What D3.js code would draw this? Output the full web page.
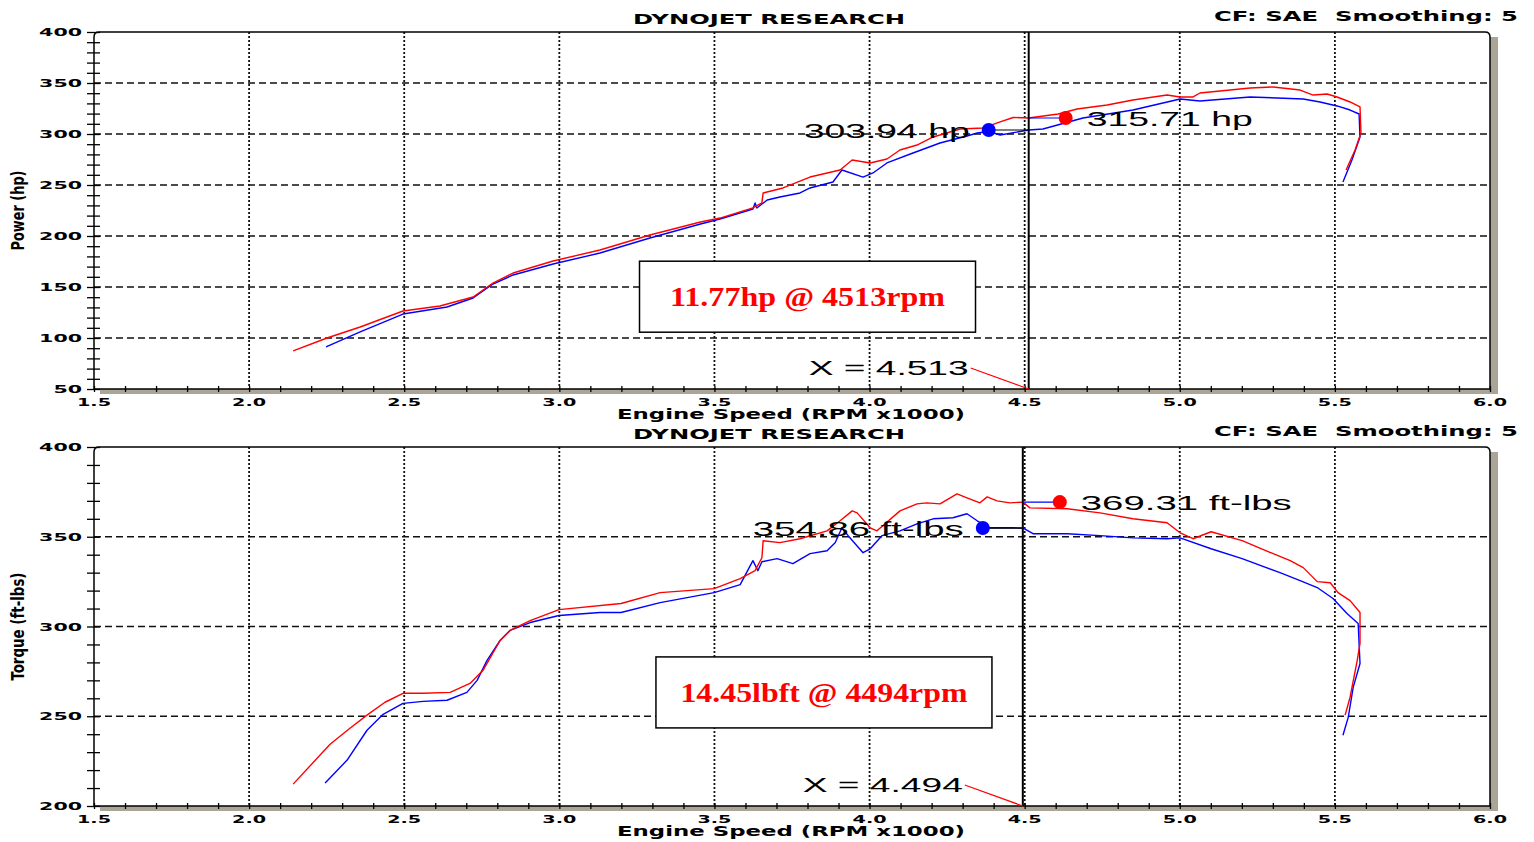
<!DOCTYPE html>
<html>
<head>
<meta charset="utf-8">
<script src="https://cdn.jsdelivr.net/npm/d3@7/dist/d3.min.js"></script>
<style>
	body { margin: 0; background: #fff; }
	svg { display: block; }
</style>
</head>
<body>
<div id="chart"></div>
<script>
// tick labels
var rpmTicks = [1.5, 2.0, 2.5, 3.0, 3.5, 4.0, 4.5, 5.0, 5.5, 6.0];
var powerTicks = [50, 100, 150, 200, 250, 300, 350, 400];
var torqueTicks = [200, 250, 300, 350, 400];

// dyno runs, [rpm x1000, value] - red is the "after" run, blue the baseline
var powerAfter = [
	[2.142, 87.3], [2.251, 100.0], [2.358, 110.8], [2.496, 126.5], [2.615, 131.4], [2.722, 140.2],
	[2.786, 153.9], [2.851, 163.7], [2.980, 175.5], [3.131, 186.3], [3.292, 201.0], [3.455, 213.7],
	[3.518, 217.6], [3.624, 227.5], [3.653, 232.4], [3.657, 242.2], [3.721, 247.1], [3.808, 257.8],
	[3.905, 264.7], [3.944, 274.5], [4.002, 271.6], [4.056, 275.5], [4.098, 284.3], [4.153, 289.2],
	[4.205, 297.1], [4.292, 304.9], [4.366, 305.9], [4.421, 311.8], [4.463, 316.2], [4.513, 315.7],
	[4.608, 319.6], [4.669, 324.5], [4.766, 328.4], [4.849, 333.3], [4.959, 338.2], [5.001, 336.3],
	[5.043, 336.3], [5.065, 340.2], [5.227, 345.1], [5.301, 346.1], [5.388, 343.1], [5.430, 338.2],
	[5.475, 339.2], [5.507, 336.3], [5.549, 331.4], [5.581, 326.5], [5.584, 301.0], [5.565, 284.3],
	[5.536, 264.7]
];
var powerBefore = [
	[2.248, 91.2], [2.358, 105.9], [2.496, 123.5], [2.638, 130.4], [2.722, 139.2], [2.786, 152.9],
	[2.851, 161.8], [2.980, 172.5], [3.131, 183.3], [3.292, 198.0], [3.455, 211.8], [3.518, 216.7],
	[3.624, 226.5], [3.631, 232.4], [3.637, 227.5], [3.670, 235.3], [3.711, 238.2], [3.776, 242.2],
	[3.808, 247.1], [3.882, 252.9], [3.911, 264.7], [3.979, 257.8], [4.011, 261.8], [4.056, 271.6],
	[4.140, 281.4], [4.227, 291.2], [4.314, 298.0], [4.347, 301.0], [4.382, 302.5], [4.421, 299.0],
	[4.513, 303.9], [4.559, 304.9], [4.688, 315.7], [4.849, 323.5], [5.001, 334.3], [5.065, 332.4],
	[5.227, 336.3], [5.314, 335.3], [5.398, 334.3], [5.452, 331.4], [5.507, 327.5], [5.549, 323.5],
	[5.578, 319.6], [5.581, 297.1], [5.555, 274.5], [5.526, 252.9]
];
var torqueAfter = [
	[2.142, 212.2], [2.261, 234.4], [2.325, 243.3], [2.380, 250.6], [2.438, 257.8], [2.496, 262.8],
	[2.561, 262.8], [2.648, 263.3], [2.712, 268.3], [2.754, 275.6], [2.809, 292.2], [2.841, 297.8],
	[2.906, 303.3], [2.999, 309.4], [3.199, 312.8], [3.325, 318.9], [3.499, 321.1], [3.583, 326.7],
	[3.631, 331.1], [3.653, 338.3], [3.657, 347.8], [3.711, 346.7], [3.776, 348.9], [3.863, 353.3],
	[3.905, 358.9], [3.944, 364.4], [3.960, 363.3], [4.002, 355.0], [4.024, 353.3], [4.098, 364.4],
	[4.153, 368.3], [4.185, 368.9], [4.227, 368.3], [4.282, 373.9], [4.314, 371.7], [4.356, 368.9],
	[4.379, 372.2], [4.411, 370.0], [4.453, 368.9], [4.494, 369.3], [4.517, 366.1], [4.637, 365.6],
	[4.743, 363.3], [4.849, 360.0], [4.959, 357.8], [5.001, 352.2], [5.043, 348.9], [5.101, 352.8],
	[5.201, 347.8], [5.301, 340.6], [5.356, 336.7], [5.398, 332.8], [5.443, 325.0], [5.485, 324.4],
	[5.510, 318.9], [5.549, 314.4], [5.581, 307.8], [5.581, 290.6], [5.572, 281.1], [5.549, 260.6],
	[5.533, 250.6]
];
var torqueBefore = [
	[2.245, 212.8], [2.316, 225.6], [2.380, 242.2], [2.432, 251.1], [2.496, 257.2], [2.561, 258.3],
	[2.638, 258.9], [2.702, 263.3], [2.735, 270.0], [2.767, 281.1], [2.809, 292.2], [2.841, 297.8],
	[2.906, 302.2], [2.999, 306.1], [3.131, 307.8], [3.199, 307.8], [3.325, 313.3], [3.499, 318.9],
	[3.583, 323.3], [3.624, 336.7], [3.640, 331.1], [3.653, 336.1], [3.702, 337.8], [3.753, 335.0],
	[3.808, 340.6], [3.863, 342.2], [3.889, 346.7], [3.911, 355.0], [3.931, 350.6], [3.979, 341.1],
	[4.002, 343.3], [4.040, 350.6], [4.098, 353.3], [4.153, 357.2], [4.205, 360.0], [4.269, 360.6],
	[4.314, 362.8], [4.347, 358.9], [4.389, 355.0], [4.463, 355.0], [4.494, 354.9], [4.527, 351.7],
	[4.637, 351.7], [4.743, 350.6], [4.849, 349.4], [4.959, 348.9], [5.001, 349.4], [5.101, 343.3],
	[5.201, 337.8], [5.323, 330.0], [5.388, 325.6], [5.443, 321.7], [5.494, 315.6], [5.539, 307.2],
	[5.575, 301.7], [5.581, 279.4], [5.559, 266.1], [5.543, 249.4], [5.526, 239.4]
];

// cursor readings: [rpm, before, after]
var powerCursor = [4.513, 303.94, 315.71];
var torqueCursor = [4.494, 354.86, 369.31];

var RED = "#ff0000", BLUE = "#0000ff", SHADOW = "#aaa596";
var W = 1534, H = 842;

var svg = d3.select("#chart").append("svg")
	.attr("width", W)
	.attr("height", H)
	.style("font-family", "'DejaVu Sans', sans-serif");

var x = d3.scaleLinear().domain([1.5, 6.0]).range([94, 1490]);

function stretchText(sel, len) {
	sel.attr("textLength", len).attr("lengthAdjust", "spacingAndGlyphs");
	return sel;
}

function drawPanel(cfg) {
	var g = svg.append("g");
	var ticks = cfg.ticks;
	var y = d3.scaleLinear().domain([ticks[0], ticks[ticks.length - 1]]).range([cfg.bottom, cfg.top]);
	var x0 = x.range()[0], x1 = x.range()[1];
	var top = cfg.top, bottom = cfg.bottom;

	// drop shadows right and bottom
	g.append("rect").attr("x", x1).attr("y", top + 5).attr("width", 8).attr("height", bottom - top).attr("fill", SHADOW);
	g.append("rect").attr("x", x0 + 6).attr("y", bottom).attr("width", x1 - x0 + 2).attr("height", 5).attr("fill", SHADOW);

	// horizontal grid (dashed)
	g.selectAll(".hgrid").data(ticks.slice(1, -1)).enter().append("line")
		.attr("x1", x0).attr("x2", x1)
		.attr("y1", function(d){ return y(d); }).attr("y2", function(d){ return y(d); })
		.attr("stroke", "#111").attr("stroke-width", 1.3).attr("stroke-dasharray", "7,4");

	// vertical grid (dotted)
	g.selectAll(".vgrid").data(rpmTicks.slice(1, -1)).enter().append("line")
		.attr("x1", function(d){ return x(d); }).attr("x2", function(d){ return x(d); })
		.attr("y1", top).attr("y2", bottom)
		.attr("stroke", "#111").attr("stroke-width", 1.8).attr("stroke-dasharray", "2,2");

	// frame
	g.append("path")
		.attr("d", "M" + x0 + "," + bottom + " L" + x0 + "," + (top + 5) + " Q" + x0 + "," + top + " " + (x0 + 5) + "," + top +
			" L" + (x1 - 5) + "," + top + " Q" + x1 + "," + top + " " + x1 + "," + (top + 5) + " L" + x1 + "," + bottom)
		.attr("fill", "none").attr("stroke", "#000").attr("stroke-width", 1.5);
	g.append("line").attr("x1", x0).attr("x2", x1).attr("y1", bottom).attr("y2", bottom)
		.attr("stroke", "#000").attr("stroke-width", 1.5);

	// minor ticks
	g.append("g").attr("transform", "translate(0," + bottom + ")")
		.call(d3.axisBottom(x).tickValues(d3.range(15, 61).map(function(d){ return d / 10; })).tickSize(3).tickFormat(""))
		.call(function(a){ a.select(".domain").remove(); a.selectAll("line").attr("y1", -3).attr("stroke-width", 1.3); });
	g.append("g").attr("transform", "translate(" + x0 + ",0)")
		.call(d3.axisLeft(y).tickValues(d3.range(ticks[0], ticks[ticks.length - 1] + 1, 10)).tickSize(7).tickFormat(""))
		.call(function(a){ a.select(".domain").remove(); a.selectAll("line").attr("x2", -7).attr("x1", 6).attr("stroke-width", 1.3); });

	// tick labels
	g.selectAll(".ylab").data(ticks).enter().append("text")
		.attr("x", x0 - 12).attr("y", function(d){ return y(d) + 4; })
		.attr("text-anchor", "end").attr("font-size", 11).attr("font-weight", "bold")
		.text(function(d){ return d; })
		.each(function(d){ stretchText(d3.select(this), String(d).length * 14.3); });
	g.selectAll(".xlab").data(rpmTicks).enter().append("text")
		.attr("x", function(d){ return x(d); }).attr("y", bottom + 17)
		.attr("text-anchor", "middle").attr("font-size", 11).attr("font-weight", "bold")
		.text(function(d){ return d.toFixed(1); })
		.call(stretchText, 34);

	// titles
	stretchText(g.append("text").attr("x", 769).attr("y", top - 8).attr("text-anchor", "middle")
		.attr("font-size", 14).attr("font-weight", "bold").text("DYNOJET RESEARCH"), 272);
	stretchText(g.append("text").attr("x", 1518).attr("y", top - 11).attr("text-anchor", "end")
		.attr("font-size", 14).attr("font-weight", "bold").text("CF: SAE\u00a0\u00a0Smoothing: 5"), 304);
	stretchText(g.append("text").attr("x", 791).attr("y", bottom + 30).attr("text-anchor", "middle")
		.attr("font-size", 14).attr("font-weight", "bold").text("Engine Speed (RPM x1000)"), 348);
	stretchText(g.append("text").attr("transform", "translate(24," + ((top + bottom) / 2) + ") rotate(-90)")
		.attr("text-anchor", "middle").attr("font-size", 17).attr("font-weight", "bold")
		.style("font-family", "'Liberation Sans Narrow', 'DejaVu Sans Condensed', sans-serif")
		.text(cfg.yLabel), cfg.yLabelLen);

	// runs
	var line = d3.line().x(function(d){ return x(d[0]); }).y(function(d){ return y(d[1]); });
	g.append("path").datum(cfg.before).attr("d", line)
		.attr("fill", "none").attr("stroke", BLUE).attr("stroke-width", 1.4).attr("stroke-linejoin", "round");
	g.append("path").datum(cfg.after).attr("d", line)
		.attr("fill", "none").attr("stroke", RED).attr("stroke-width", 1.4).attr("stroke-linejoin", "round");

	// cursor
	var cx = x(cfg.cursor[0]);
	var yb = y(cfg.cursor[1]), ya = y(cfg.cursor[2]);
	g.append("line").attr("x1", cx).attr("x2", cx).attr("y1", top).attr("y2", bottom)
		.attr("stroke", "#000").attr("stroke-width", 2);
	g.append("line").attr("x1", cx - 40).attr("x2", cx).attr("y1", yb).attr("y2", yb)
		.attr("stroke", "#000").attr("stroke-width", 1.2);
	g.append("line").attr("x1", cx).attr("x2", cx + 37).attr("y1", ya).attr("y2", ya)
		.attr("stroke", BLUE).attr("stroke-width", 1.2);
	g.append("circle").attr("cx", cx - 40).attr("cy", yb).attr("r", 7).attr("fill", BLUE);
	g.append("circle").attr("cx", cx + 37).attr("cy", ya).attr("r", 7).attr("fill", RED);

	var labelFont = "'Liberation Sans', Arial, sans-serif";
	stretchText(g.append("text").attr("x", cx - 59).attr("y", yb + 8).attr("text-anchor", "end")
		.attr("font-size", 21).style("font-family", labelFont)
		.text(cfg.cursor[1].toFixed(2) + " " + cfg.unit), cfg.labelLen);
	stretchText(g.append("text").attr("x", cx + 58).attr("y", ya + 8).attr("text-anchor", "start")
		.attr("font-size", 21).style("font-family", labelFont)
		.text(cfg.cursor[2].toFixed(2) + " " + cfg.unit), cfg.labelLen);

	// X = readout
	g.append("line").attr("x1", cx - 58).attr("y1", bottom - 21).attr("x2", cx).attr("y2", bottom)
		.attr("stroke", RED).attr("stroke-width", 1.2);
	stretchText(g.append("text").attr("x", cx - 60).attr("y", bottom - 14).attr("text-anchor", "end")
		.attr("font-size", 20).style("font-family", labelFont)
		.text("X = " + cfg.cursor[0].toFixed(3)), 160);

	// gain box
	var bx = x(cfg.boxAt[0]), by = y(cfg.boxAt[1]);
	g.append("rect").attr("x", bx - 168).attr("y", by - 36).attr("width", 336).attr("height", 71)
		.attr("fill", "#fff").attr("stroke", "#000").attr("stroke-width", 1.5);
	stretchText(g.append("text").attr("x", bx).attr("y", by + 9).attr("text-anchor", "middle")
		.attr("fill", RED).attr("font-size", 28).attr("font-weight", "bold")
		.style("font-family", "'Liberation Serif', 'Times New Roman', serif")
		.text(cfg.gain), cfg.gainLen);
}

drawPanel({
	top: 32, bottom: 389, ticks: powerTicks,
	before: powerBefore, after: powerAfter, cursor: powerCursor,
	yLabel: "Power (hp)", yLabelLen: 80, unit: "hp", labelLen: 166,
	boxAt: [3.80, 140], gain: "11.77hp @ 4513rpm", gainLen: 275
});
drawPanel({
	top: 447, bottom: 806, ticks: torqueTicks,
	before: torqueBefore, after: torqueAfter, cursor: torqueCursor,
	yLabel: "Torque (ft-lbs)", yLabelLen: 108, unit: "ft-lbs", labelLen: 211,
	boxAt: [3.853, 263], gain: "14.45lbft @ 4494rpm", gainLen: 287
});
</script>
</body>
</html>
